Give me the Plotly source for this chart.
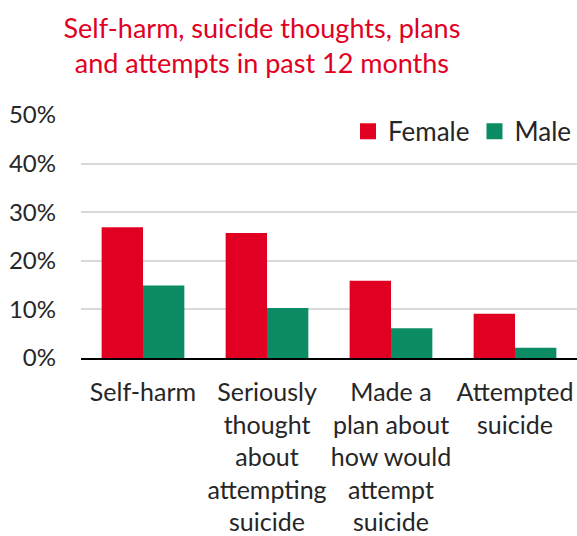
import plotly.graph_objects as go

categories = [
    "Self-harm",
    "Seriously<br>thought<br>about<br>attempting<br>suicide",
    "Made a<br>plan about<br>how would<br>attempt<br>suicide",
    "Attempted<br>suicide",
]
female = [26.9, 25.7, 15.9, 9.1]
male = [14.9, 10.3, 6.1, 2.1]
y_ticks = [0, 10, 20, 30, 40, 50]
y_tick_labels = ["0%", "10%", "20%", "30%", "40%", "50%"]

RED = "#E10022"
GREEN = "#0B8C64"
FONT = "Lato"
TEXT = "#262626"

fig = go.Figure()
fig.add_trace(go.Bar(x=categories, y=female, name="Female", marker_color=RED,
                     marker_line_width=0, showlegend=False))
fig.add_trace(go.Bar(x=categories, y=male, name="Male", marker_color=GREEN,
                     marker_line_width=0, showlegend=False))
# legend entries with larger square swatches
for name, col in [("Female", RED), ("Male", GREEN)]:
    fig.add_trace(go.Scatter(x=[None], y=[None], mode="markers", name=name,
                             marker=dict(symbol="square", size=17, color=col)))

fig.update_layout(
    width=577, height=536,
    margin=dict(l=81, r=0, t=115, b=176),
    paper_bgcolor="white", plot_bgcolor="white",
    barmode="group", bargap=0.333, bargroupgap=0,
    font=dict(family=FONT, size=24, color=TEXT),
    title=dict(
        text="Self-harm, suicide thoughts, plans<br>and attempts in past 12 months",
        x=0.454, xanchor="center", xref="container", y=0.93, yanchor="middle",
        font=dict(family=FONT, size=27, color=RED),
    ),
    legend=dict(
        orientation="h", x=1.0, xanchor="right", y=0.933, yanchor="middle",
        bgcolor="white", font=dict(family=FONT, size=26, color=TEXT),
        itemwidth=30, traceorder="normal",
    ),
    xaxis=dict(
        showline=True, linecolor="black", linewidth=2, ticks="",
        tickangle=0,
        tickfont=dict(family=FONT, size=25, color=TEXT),
        ticklabelstandoff=11,
        fixedrange=True,
    ),
    yaxis=dict(
        range=[0, 50], tickvals=y_ticks, ticktext=y_tick_labels,
        showgrid=True, gridcolor="#D9D9D9", gridwidth=1.5,
        zeroline=False, showline=False, ticks="",
        ticklabelstandoff=24,
        tickfont=dict(family=FONT, size=24, color=TEXT),
    ),
)

fig.write_html("out.html")
